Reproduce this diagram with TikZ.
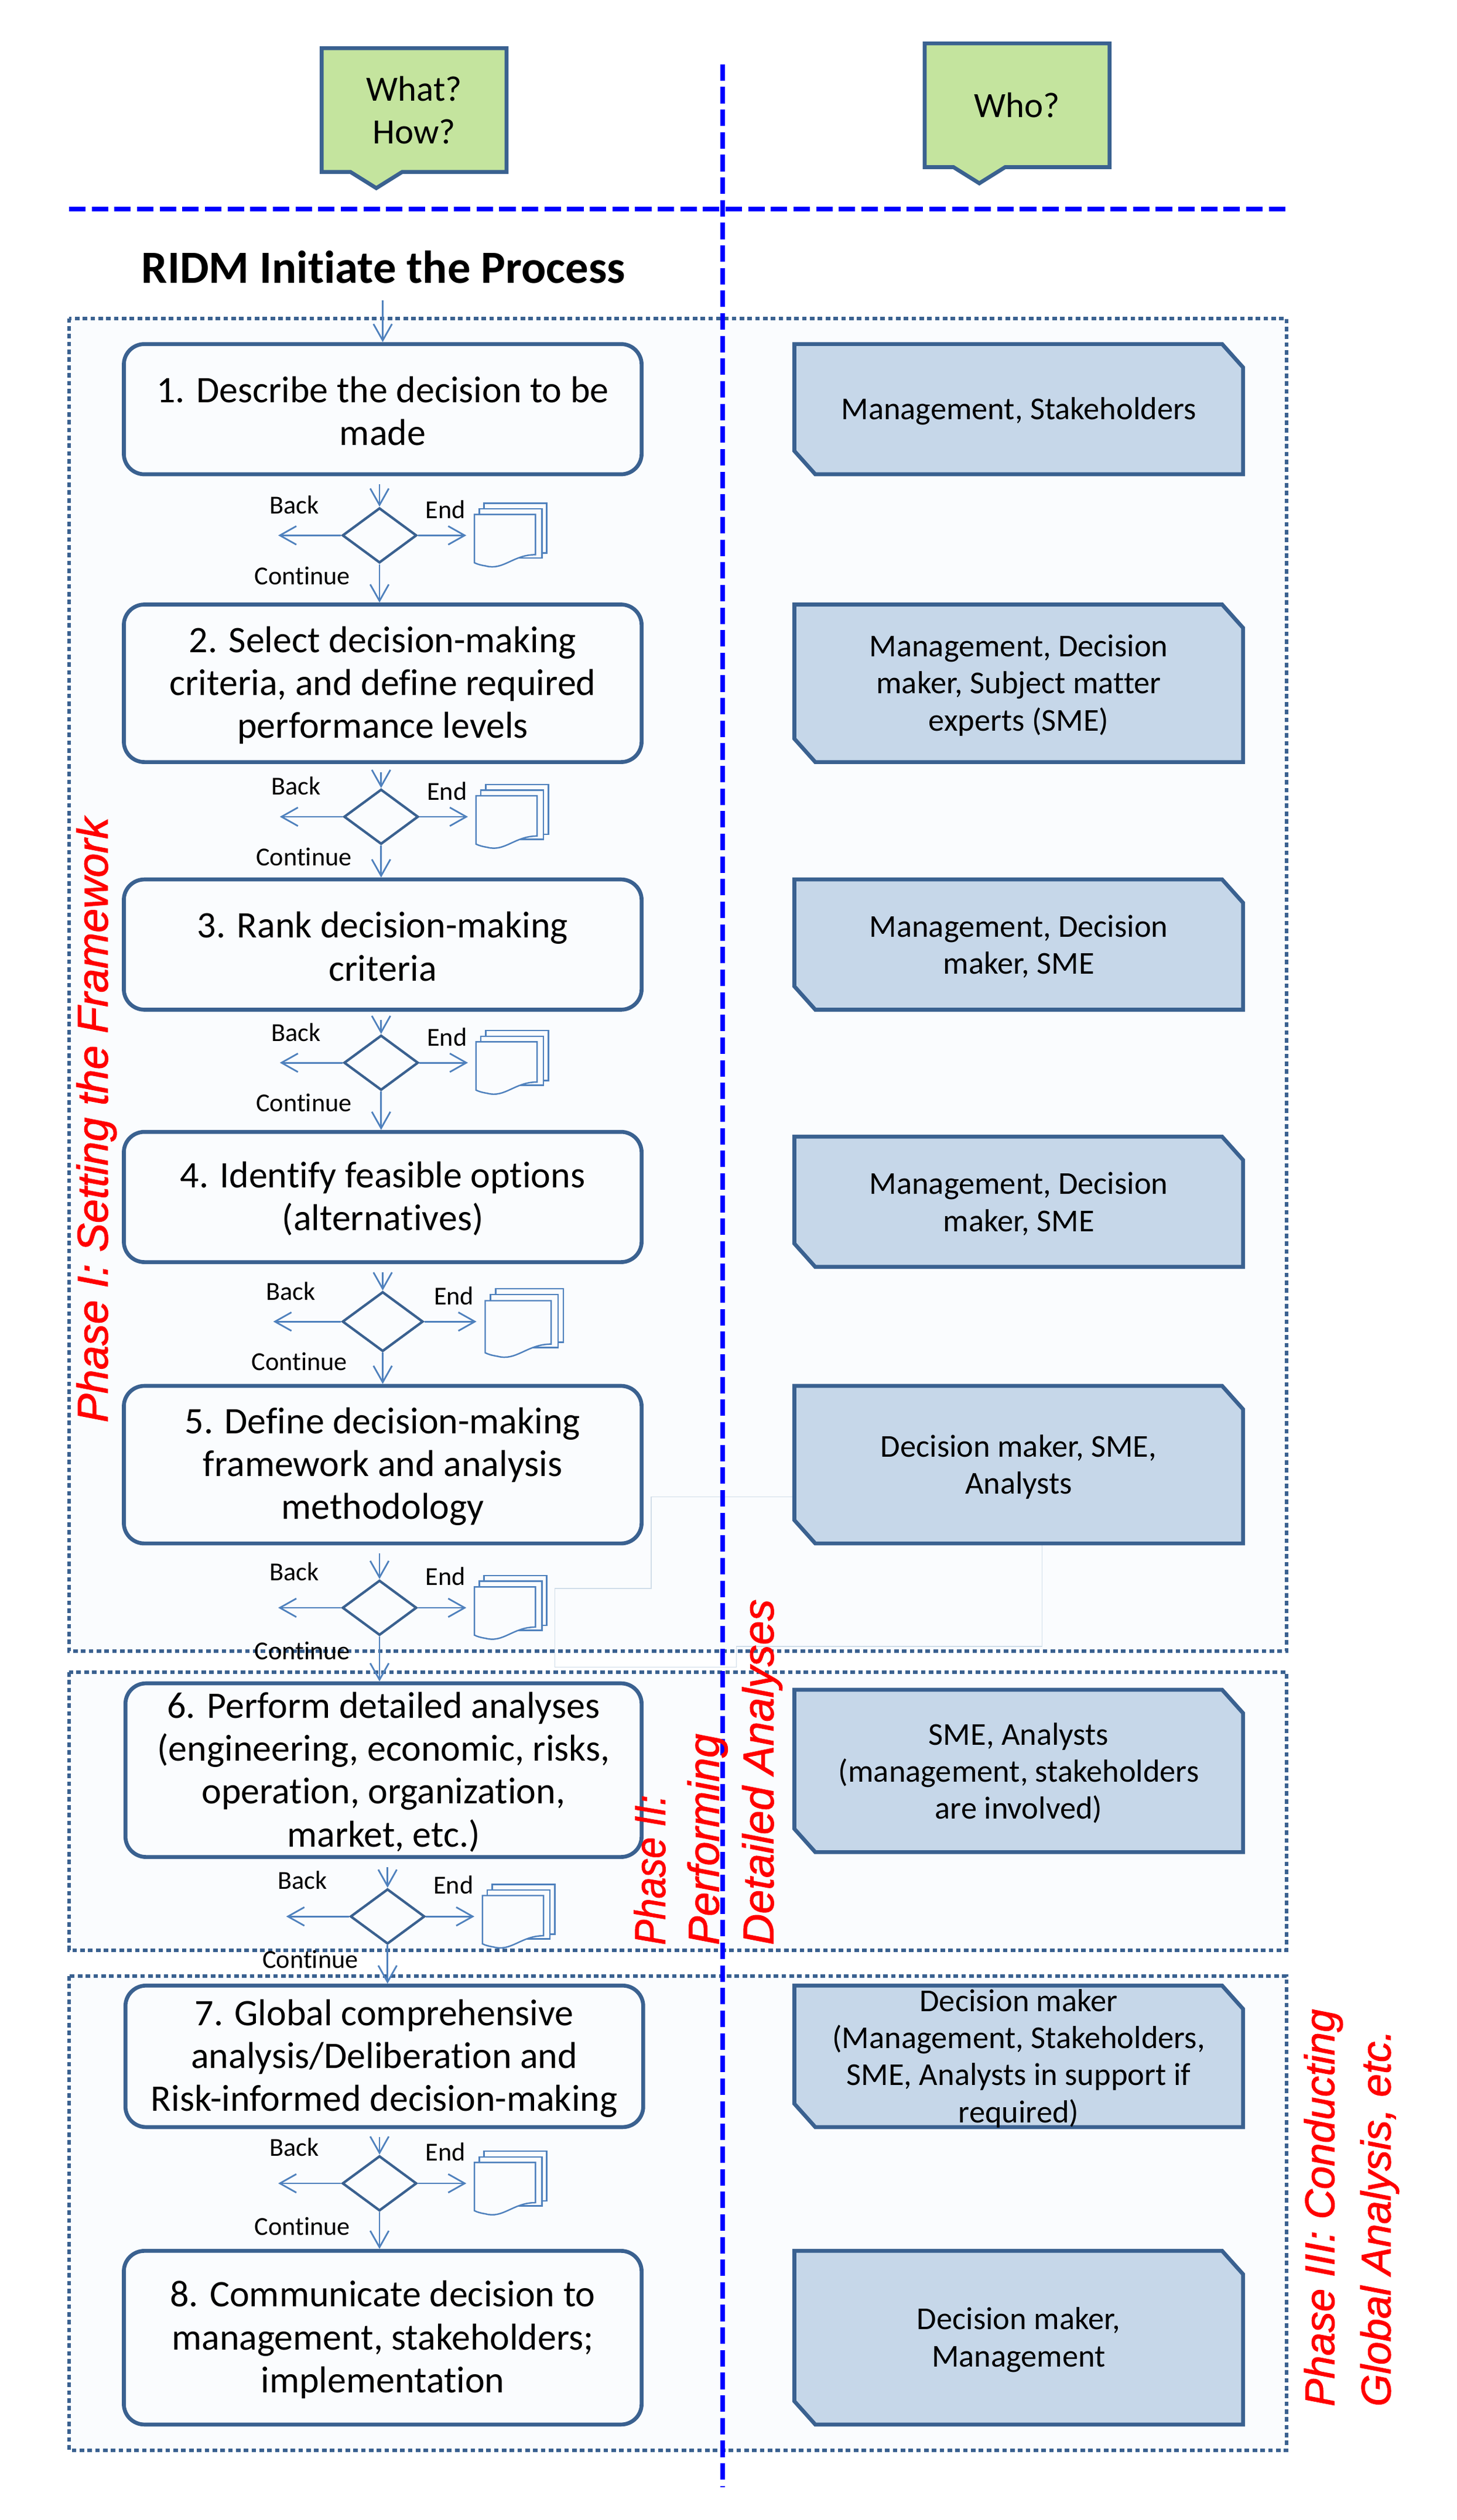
\documentclass[tikz,border=0pt]{standalone}
\usepackage{fontspec}
\setmainfont[RawFeature={-liga}]{Carlito}
\newfontfamily\redfont[ItalicFeatures={FakeBold=1.4}]{Liberation Sans}
\usetikzlibrary{shapes.geometric,arrows.meta,calc}
\definecolor{edge}{HTML}{3A6190}
\definecolor{flow}{HTML}{4F81BD}
\definecolor{panel}{HTML}{FAFCFE}
\definecolor{who}{HTML}{C6D7E9}
\definecolor{green}{HTML}{C4E49E}
\definecolor{ghost}{HTML}{D0DDE9}
\tikzset{
  x=0.02746cm,y=-0.02746cm,
  frame/.style={draw=edge,line width=1.6pt,dash pattern=on 2.2pt off 1.6pt,fill=panel},
  axis/.style={draw=blue,line width=2.3pt,dash pattern=on 8pt off 3pt},
  taskbox/.style={draw=edge,line width=1.9pt,rounded corners=10pt,fill=panel,inner sep=0pt},
  tasktext/.style={align=center,inner sep=0pt,font=\fontsize{18.2}{20.8}\selectfont},
  whotext/.style={align=center,inner sep=0pt,font=\fontsize{15.5}{18}\selectfont},
  asktext/.style={align=center,inner sep=0pt,font=\fontsize{17.3}{20.5}\selectfont},
  choice/.style={draw=edge,line width=1.2pt,shape=diamond,fill=panel,inner sep=0pt,minimum width=1.27cm,minimum height=0.94cm},
  bigchoice/.style={choice,minimum width=1.38cm,minimum height=1.02cm},
  flowline/.style={draw=flow,line width=0.8pt,-{Straight Barb[length=8pt,width=9pt]}},
  tag/.style={inner sep=0pt,font=\fontsize{12.6}{14}\selectfont},
  page/.style={draw=flow,line width=0.7pt,fill=panel},
  phase/.style={text=red,inner sep=0pt,rotate=90,font=\redfont\itshape\fontsize{21}{24}\selectfont},
  phasethree/.style={phase,font=\redfont\itshape\fontsize{20.2}{24}\selectfont},
  pane/.style={draw=edge,line width=1.9pt,line join=miter},
}
\newcommand{\whobox}[6]{%
  \fill[who] (#2,#3) -- (#4-13,#3) -- (#4,#3+14.5) -- (#4,#5) -- (#2+13,#5) -- (#2,#5-14.5) -- cycle;
  \draw[pane] (#2,#3) -- (#4-13,#3) -- (#4,#3+14.5) -- (#4,#5) -- (#2+13,#5) -- (#2,#5-14.5) -- cycle;
  \node[whotext] (#1) at ({(#2+#4)/2},{(#3+#5)/2+1.3}) {#6};}
\newcommand{\askbox}[7]{%
  \draw[pane,fill=green] (#2,#3) -- (#4,#3) -- (#4,#5) -- (#6+16,#5) -- (#6,#5+10) -- (#6-16,#5) -- (#2,#5) -- cycle;
  \node[asktext] (#1) at ({(#2+#4)/2},{(#3+#5)/2}) {#7};}
\newcommand{\task}[6]{%
  \node[taskbox,minimum width={(#4-#2)*0.02746cm},minimum height={(#5-#3)*0.02746cm}] (#1) at ({(#2+#4)/2},{(#3+#5)/2}) {};
  \node[tasktext] (#1text) at ({(#2+#4)/2},{(#3+#5)/2+1.2}) {#6};}
\newcommand{\tagdrop}{0}
% name, cx, cy, from, to, xscale factor, choice style
\newcommand{\gate}[7]{%
  \node[#7] (#1) at (#2,#3) {};
  \coordinate (#1L) at (#2-63*#6,#3);
  \coordinate (#1R) at (#2+54*#6,#3);
  \coordinate (#1T) at ($(#4.south)!(#1.north)!(#4.south east)$);
  \draw[flowline] ($(#1T)+(0,5)$) -- (#1.north);
  \draw[flowline] (#1.west) -- (#1L);
  \draw[flowline] (#1.east) -- (#1R);
  \draw[flowline] (#1.south) -- (#1.south |- #5.north);
  \node[tag] (#1back) at (#2-53*#6,#3-19-\tagdrop) {Back};
  \node[tag] (#1end) at (#2+41*#6,#3-16-\tagdrop) {End};
  \node[tag] (#1cont) at (#2-48*#6,#3+25+0.5*\tagdrop) {Continue};
  \begin{scope}[shift={(#2+59*#6,#3-13)},scale=#6]
    \draw[page] (6,-7) rectangle (45,24);
    \draw[page] (3,-3.5) rectangle (42,27);
    \draw[page] (0,0) -- (38,0) -- (38,25) .. controls (24,25) and (18,35) .. (7,32) .. controls (4,31.5) and (2,31) .. (0,30) -- cycle;
  \end{scope}}
\begin{document}
\begin{tikzpicture}
\useasboundingbox (0,0) rectangle (906.04,1567.4);
\fill[white] (0,0) rectangle (906.04,1567.4);
% phase frames
\path[frame] (43,198) rectangle (800,1027);
\path[frame] (43,1040) rectangle (800,1213);
\path[frame] (43,1229) rectangle (800,1524);
% faint leftover outline
\draw[ghost,line width=0.4pt] (405,931) -- (648,931) -- (648,1024) -- (458,1024) -- (458,1037) -- (345,1037) -- (345,988) -- (405,988) -- cycle;
% axes
\coordinate (axisL) at (43,130); \coordinate (axisR) at (800,130);
\coordinate (axisT) at (449.5,40); \coordinate (axisB) at (449.5,1547);
\path[axis] (axisL) -- (axisR);
\path[axis] (axisT) -- (axisB);
% questions
\askbox{qa}{200}{30}{315}{107}{234}{What?\\How?}
\askbox{qb}{575}{27}{690}{104}{609}{Who?}
\node[inner sep=0pt,font=\bfseries\fontsize{22.4}{26}\selectfont] (title) at (238.5,166) {RIDM Initiate the Process};
% tasks
\task{b1}{77}{214}{399}{295}{1. Describe the decision to be\\made}
\task{b2}{77}{376}{399}{474}{2. Select decision-making\\criteria, and define required\\performance levels}
\task{b3}{77}{547}{399}{628}{3. Rank decision-making\\criteria}
\task{b4}{77}{704}{399}{785}{4. Identify feasible options\\(alternatives)}
\task{b5}{77}{862}{399}{960}{5. Define decision-making\\framework and analysis\\methodology}
\task{b6}{78}{1047}{399}{1155}{6. Perform detailed analyses\\(engineering, economic, risks,\\operation, organization,\\market, etc.)}
\task{b7}{78}{1235}{400}{1323}{7. Global comprehensive\\analysis/Deliberation and\\Risk-informed decision-making}
\task{b8}{77}{1400}{399}{1508}{8. Communicate decision to\\management, stakeholders;\\implementation}
% who
\whobox{w1}{494}{214}{773}{295}{Management, Stakeholders}
\whobox{w2}{494}{376}{773}{474}{Management, Decision\\maker, Subject matter\\experts (SME)}
\whobox{w3}{494}{547}{773}{628}{Management, Decision\\maker, SME}
\whobox{w4}{494}{707}{773}{788}{Management, Decision\\maker, SME}
\whobox{w5}{494}{862}{773}{960}{Decision maker, SME,\\Analysts}
\whobox{w6}{494}{1051}{773}{1152}{SME, Analysts\\(management, stakeholders\\are involved)}
\whobox{w7}{494}{1235}{773}{1323}{Decision maker\\(Management, Stakeholders,\\SME, Analysts in support if\\required)}
\whobox{w8}{494}{1400}{773}{1508}{Decision maker,\\Management}
% entry arrow
\coordinate (start) at (238,187);
\draw[flowline] (start) -- (b1.north);
% gates
\gate{d1}{236}{333}{b1}{b2}{1}{choice}
\gate{d2}{237}{508}{b2}{b3}{1}{choice}
\gate{d3}{237}{661}{b3}{b4}{1}{choice}
\gate{d4}{238}{822}{b4}{b5}{1.08}{bigchoice}
\renewcommand{\tagdrop}{3.5}
\gate{d5}{236}{1000}{b5}{b6}{1}{choice}
\gate{d6}{241}{1192}{b6}{b7}{1}{choice}
\gate{d7}{236}{1358}{b7}{b8}{1}{choice}
% phases
\node[phase,anchor=west] (p1) at (60,885) {Phase I: Setting the Framework};
\node[phase,anchor=west] (p2a) at (404,1210) {\scalebox{0.88}[1]{Phase II:}};
\node[phase,anchor=west] (p2b) at (440,1210) {Performing};
\node[phase,anchor=west] (p2c) at (474,1210) {Detailed Analyses};
\node[phasethree,anchor=west] (p3a) at (823,1497) {Phase III: Conducting};
\node[phasethree,anchor=west] (p3b) at (858,1497) {Global Analysis, etc.};
\end{tikzpicture}
\end{document}
